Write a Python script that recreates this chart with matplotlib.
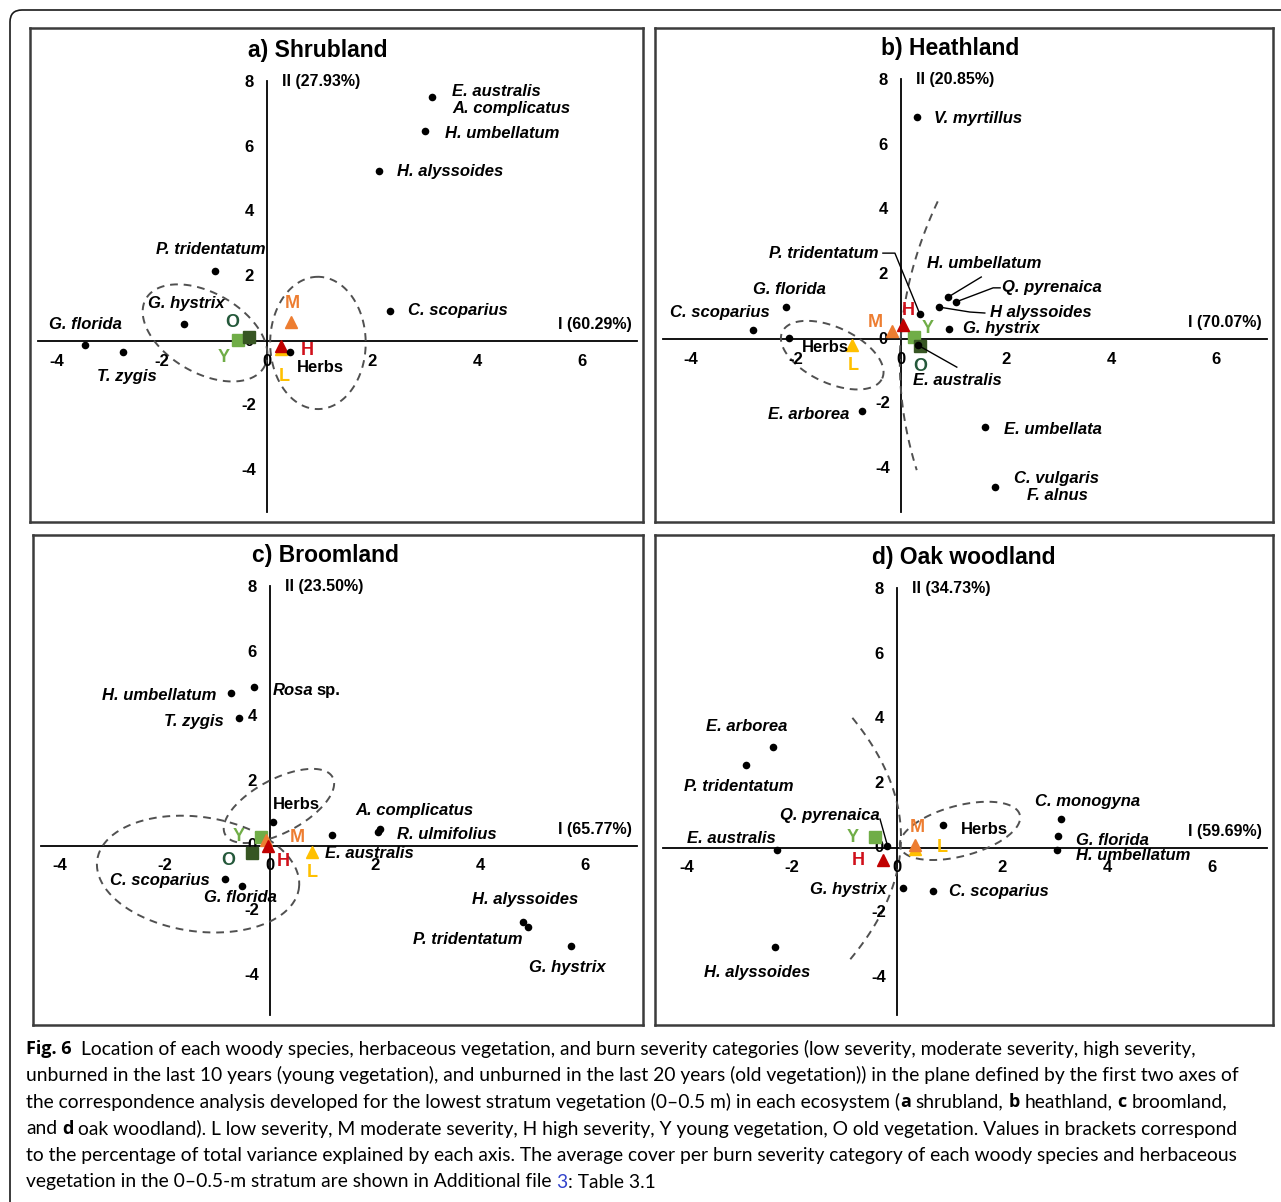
import numpy as np
import matplotlib
matplotlib.use("Agg")
import matplotlib.pyplot as plt
from matplotlib.patches import FancyBboxPatch
from matplotlib.transforms import IdentityTransform

W, H = 1281, 1202
UX, UY = 52.5, 32.3  # pixels per axis unit (same in all four panels)

# ---------------- data (axis I, axis II scores) ----------------
a_species = ["E. australis\nA. complicatus", "H. umbellatum", "H. alyssoides", "P. tridentatum",
             "C. scoparius", "G. hystrix", "G. florida", "T. zygis", "Herbs"]
a_x = [3.14, 3.01, 2.13, -0.99, 2.34, -1.58, -3.47, -2.74, 0.44]
a_y = [7.55, 6.50, 5.26, 2.17, 0.93, 0.53, -0.12, -0.34, -0.34]
a_cats = ["L", "M", "H", "Y", "O"]
a_cat_x = [0.27, 0.46, 0.27, -0.55, -0.34]
a_cat_y = [-0.25, 0.58, -0.15, 0.03, 0.12]

b_species = ["V. myrtillus", "P. tridentatum", "H. umbellatum", "Q. pyrenaica", "H alyssoides",
             "G. hystrix", "E. australis", "G. florida", "C. scoparius", "Herbs", "E. arborea",
             "E. umbellata", "C. vulgaris\nF. alnus"]
b_x = [0.30, 0.36, 0.90, 1.05, 0.72, 0.91, 0.32, -2.19, -2.82, -2.13, -0.74, 1.60, 1.79]
b_y = [6.87, 0.77, 1.30, 1.15, 0.99, 0.31, -0.19, 0.99, 0.28, 0.03, -2.23, -2.72, -4.58]
b_cats = ["L", "M", "H", "Y", "O"]
b_cat_x = [-0.93, -0.17, 0.04, 0.25, 0.36]
b_cat_y = [-0.19, 0.25, 0.43, 0.06, -0.22]

c_species = ["H. umbellatum", "Rosa sp.", "T. zygis", "Herbs", "A. complicatus", "R. ulmifolius",
             "E. australis", "C. scoparius", "G. florida", "H. alyssoides", "P. tridentatum", "G. hystrix"]
c_x = [-0.74, -0.30, -0.59, 0.06, 2.10, 2.06, 1.18, -0.86, -0.53, 4.82, 4.91, 5.73]
c_y = [4.74, 4.92, 3.96, 0.74, 0.53, 0.43, 0.34, -1.02, -1.24, -2.35, -2.51, -3.10]
c_cats = ["Y", "O", "L", "M", "H"]
c_cat_x = [-0.17, -0.34, 0.80, -0.08, -0.04]
c_cat_y = [0.28, -0.22, -0.19, 0.19, 0.0]

d_species = ["E. arborea", "P. tridentatum", "E. australis", "H. alyssoides", "Q. pyrenaica",
             "G. hystrix", "C. scoparius", "Herbs", "C. monogyna", "G. florida", "H. umbellatum"]
d_x = [-2.36, -2.88, -2.29, -2.32, -0.19, 0.11, 0.69, 0.88, 3.12, 3.07, 3.05]
d_y = [3.13, 2.57, -0.06, -3.07, 0.06, -1.24, -1.33, 0.71, 0.90, 0.37, -0.06]
d_cats = ["L", "M", "H", "Y"]
d_cat_x = [0.34, 0.34, -0.27, -0.42]
d_cat_y = [-0.03, 0.09, -0.37, 0.34]

titles = ["a) Shrubland", "b) Heathland", "c) Broomland", "d) Oak woodland"]
axis1_labels = ["I (60.29%)", "I (70.07%)", "I (65.77%)", "I (59.69%)"]
axis2_labels = ["II (27.93%)", "II (20.85%)", "II (23.50%)", "II (34.73%)"]
xticks = [-4, -2, 0, 2, 4, 6]
yticks = [-4, -2, 0, 2, 4, 6, 8]

# group ellipses (cx, cy, semi-major, semi-minor in axis-I units, screen angle)
a_ellipses = [(-1.18, 0.25, 1.30, 0.76, -30), (0.97, -0.06, 1.26, 0.91, 90)]
b_ellipses = [(-1.31, -0.50, 1.05, 0.53, -25)]
c_ellipses = [(-1.37, -0.87, 1.94, 1.09, -8), (0.17, 1.24, 1.16, 0.51, 28)]
d_ellipses = [(1.20, 0.53, 1.18, 0.48, 15)]
# dividing dashed curves (x values, y values)
b_curve = ([0.70, -0.02, 0.30], [4.26, -1.0, -4.06])
d_curve = ([-0.85, 0.07, -0.95], [4.03, 0.03, -3.56])

# ---------------- layout ----------------
# label offsets in pixels (dx, dy downwards, ha)
a_lab = [(20, 3, "left"), (20, 2, "left"), (18, 0, "left"), (50, -21, "right"), (18, 0, "left"),
         (2, -20, "center"), (1, -20, "center"), (4, 25, "center"), (7, 16, "left")]
b_lab = [(17, 1, "left"), (-41, -61, "right"), (-21, -34, "left"), (46, -14, "left"), (51, 5, "left"),
         (14, 0, "left"), (-5, 35, "left"), (3, -18, "center"), (-33, -17, "center"), (13, 9, "left"),
         (-13, 3, "right"), (19, 3, "left"), (62, 0, "center")]
c_lab = [(-15, 3, "right"), (18, 3, "left"), (-15, 3, "right"), (0, -18, "left"), (-25, -18, "left"),
         (19, 2, "left"), (-7, 18, "left"), (-15, 2, "right"), (-2, 11, "center"), (2, -22, "center"),
         (-5, 12, "right"), (-4, 21, "center")]
d_lab = [(-26, -20, "center"), (-7, 22, "center"), (-45, -11, "center"), (-18, 25, "center"),
         (-7, -31, "right"), (-16, 1, "right"), (16, 1, "left"), (18, 4, "left"), (27, -17, "center"),
         (18, 4, "left"), (19, 6, "left")]
a_cat_lab = [(3, 27), (1, -19), (26, 5), (-14, 17), (-17, -15)]
b_cat_lab = [(1, 20), (-17, -8), (5, -15), (14, -9), (0, 20)]
c_cat_lab = [(-22, 0), (-24, 7), (0, 20), (32, -2), (15, 16)]
d_cat_lab = [(27, -1), (2, -18), (-25, 1), (-22, 0)]
b_leaders = {"P. tridentatum": [(0, 0), (-25, -61), (-37, -61)],
             "H. umbellatum": [(0, 0), (33, -20)],
             "Q. pyrenaica": [(0, 0), (37, -14), (44, -14)],
             "H alyssoides": [(0, 0), (31, 5), (46, 6)],
             "E. australis": [(0, 0), (39, 22)]}
d_leaders = {"Q. pyrenaica": [(0, -2), (-7, -27)]}

# panel boxes (left, top, right, bottom) and origin pixel
boxes = [(30, 28, 643, 522), (655, 28, 1273, 522), (33, 535, 643, 1025), (655, 535, 1273, 1025)]
origins = [(267, 341), (901, 339), (270, 846), (897, 848)]
title_x = [-0.36, -0.38, -0.34, -0.48]

cat_color = {"L": "#ffc000", "M": "#ed7d31", "H": "#c00000", "Y": "#70ad47", "O": "#375623"}
cat_text = {"L": "#ffc000", "M": "#ed7d31", "H": "#d0101a", "Y": "#70ad47", "O": "#24583a"}
cat_marker = {"L": "^", "M": "^", "H": "^", "Y": "s", "O": "s"}
cat_z = {"Y": 3, "O": 3.1, "L": 4, "M": 4.1, "H": 4.2}

FONT = "Liberation Sans"
DASH = dict(color="#505050", lw=1.4, dashes=(4, 3))

fig = plt.figure(figsize=(W / 100, H / 100), dpi=100)
renderer = fig.canvas.get_renderer()

border = FancyBboxPatch((10, -30), 1300, H - 10 + 30, boxstyle="round,pad=0,rounding_size=12",
                        transform=IdentityTransform(), fill=False, lw=1.2, ec="#1a1a1a")
fig.add_artist(border)


def ellipse_pts(cx, cy, a, b, ang):
    t = np.linspace(0, 2 * np.pi, 200)
    p = np.deg2rad(ang)
    X = a * np.cos(t) * np.cos(p) - b * np.sin(t) * np.sin(p)
    Y = a * np.cos(t) * np.sin(p) + b * np.sin(t) * np.cos(p)
    return cx + X, cy + Y * UX / UY


panels = [
    (a_species, a_x, a_y, a_lab, a_cats, a_cat_x, a_cat_y, a_cat_lab, a_ellipses, None, {}),
    (b_species, b_x, b_y, b_lab, b_cats, b_cat_x, b_cat_y, b_cat_lab, b_ellipses, b_curve, b_leaders),
    (c_species, c_x, c_y, c_lab, c_cats, c_cat_x, c_cat_y, c_cat_lab, c_ellipses, None, {}),
    (d_species, d_x, d_y, d_lab, d_cats, d_cat_x, d_cat_y, d_cat_lab, d_ellipses, d_curve, d_leaders),
]

for i, (sp, xs, ys, lab, cats, cx, cy, clab, ells, curve, leaders) in enumerate(panels):
    left, top, right, bottom = boxes[i]
    ox, oy = origins[i]
    ax = fig.add_axes([left / W, 1 - bottom / H, (right - left) / W, (bottom - top) / H])
    x0, x1 = (left - ox) / UX, (right - ox) / UX
    y0, y1 = (oy - bottom) / UY, (oy - top) / UY
    ax.set_xlim(x0, x1)
    ax.set_ylim(y0, y1)
    ax.set_xticks([])
    ax.set_yticks([])
    for s in ax.spines.values():
        s.set_linewidth(1.8)
        s.set_color("#3c3c3c")

    # axes through origin
    ax.plot([x0 + 0.15, x1 - 0.12], [0, 0], color="black", lw=1.3, zorder=1)
    ax.plot([0, 0], [y0 + 0.3, 8.05], color="black", lw=1.3, zorder=1)
    tk = dict(fontsize=12, fontweight="bold", family=FONT, textcoords="offset pixels", va="center")
    for v in xticks:
        ax.annotate(str(v), (v, 0), xytext=(0, -20), ha="center", **tk)
    for v in yticks:
        ax.annotate(str(v), (0, v), xytext=(-18, 0), ha="center", **tk)
    ax.text(0.28, 8.02, axis2_labels[i], fontsize=11.5, fontweight="bold", family=FONT, va="center")
    ax.text(x1 - 0.22, 0.5, axis1_labels[i], fontsize=11.5, fontweight="bold", family=FONT,
            va="center", ha="right")
    ax.text(title_x[i], 9.0, titles[i], fontsize=16.5, fontweight="bold", family=FONT, va="center")

    # group ellipses and dividing curves
    for e in ells:
        ex, ey = ellipse_pts(*e)
        ax.plot(ex, ey, zorder=2, **DASH)
    if curve is not None:
        coef = np.polyfit(curve[1], curve[0], 2)
        yy = np.linspace(max(curve[1]), min(curve[1]), 100)
        ax.plot(np.polyval(coef, yy), yy, zorder=2, **DASH)

    # species
    ax.scatter(xs, ys, s=30, color="black", zorder=6, linewidths=0)
    for name, x, y, (dx, dy, ha) in zip(sp, xs, ys, lab):
        style = dict(fontsize=12, fontweight="bold", family=FONT, textcoords="offset pixels",
                     va="center", ha=ha, multialignment="center" if ha == "center" else "left",
                     linespacing=1.2, zorder=7)
        if name == "Herbs":
            ax.annotate(name, (x, y), xytext=(dx, -dy), **style)
        elif name.endswith(" sp."):
            t = ax.annotate(name[:-4], (x, y), xytext=(dx, -dy), fontstyle="italic", **style)
            w = t.get_window_extent(renderer).width
            ax.annotate("sp.", (x, y), xytext=(dx + w + 4, -dy), **style)
        else:
            ax.annotate(name, (x, y), xytext=(dx, -dy), fontstyle="italic", **style)
        if name in leaders:
            pts = leaders[name]
            ax.plot([x + px / UX for px, py in pts], [y - py / UY for px, py in pts],
                    color="black", lw=1.0, zorder=5)

    # burn severity categories
    for c, x, y, (dx, dy) in zip(cats, cx, cy, clab):
        ax.plot(x, y, marker=cat_marker[c], ms=9, color=cat_color[c], zorder=cat_z[c], ls="none")
        ax.annotate(c, (x, y), xytext=(dx, -dy), textcoords="offset pixels", ha="center", va="center",
                    fontsize=13, fontweight="bold", family=FONT, color=cat_text[c], zorder=8)

# ---------------- caption ----------------
CAP_FONT = {"normal": ("Lato", 13.9), "bold": ("Open Sans", 13.0)}
caption = [
    [("Fig. 6", "bold", "black"), ("  Location of each woody species, herbaceous vegetation, and burn severity "
     "categories (low severity, moderate severity, high severity,", "normal", "black")],
    [("unburned in the last 10 years (young vegetation), and unburned in the last 20 years (old vegetation)) "
      "in the plane defined by the first two axes of", "normal", "black")],
    [("the correspondence analysis developed for the lowest stratum vegetation (0\u20130.5 m) in each ecosystem (",
      "normal", "black"), ("a", "bold", "black"), (" shrubland, ", "normal", "black"), ("b", "bold", "black"),
     (" heathland, ", "normal", "black"), ("c", "bold", "black"), (" broomland,", "normal", "black")],
    [("and ", "normal", "black"), ("d", "bold", "black"), (" oak woodland). L low severity, M moderate severity, "
     "H high severity, Y young vegetation, O old vegetation. Values in brackets correspond", "normal", "black")],
    [("to the percentage of total variance explained by each axis. The average cover per burn severity category "
      "of each woody species and herbaceous", "normal", "black")],
    [("vegetation in the 0\u20130.5-m stratum are shown in Additional file ", "normal", "black"),
     ("3", "normal", "#3344cc"), (": Table 3.1", "normal", "black")],
]
cap_y = [1049, 1075, 1102, 1129, 1156, 1182]


def cap_style(weight):
    fam, size = CAP_FONT[weight]
    return dict(family=fam, fontsize=size, fontweight=weight)


def text_width(s, weight):
    t = fig.text(0, 0, "|" + s + "|", **cap_style(weight))
    t2 = fig.text(0, 0, "||", **cap_style(weight))
    w = t.get_window_extent(renderer).width - t2.get_window_extent(renderer).width
    t.remove()
    t2.remove()
    return w


for line, yp in zip(caption, cap_y):
    xp = 26
    for s, weight, color in line:
        lead = len(s) - len(s.lstrip(" "))
        shift = text_width(" " * lead, weight) if lead else 0
        fig.text((xp + shift) / W, 1 - yp / H, s.strip(" "), color=color,
                 va="center", ha="left", **cap_style(weight))
        xp += text_width(s, weight)

fig.savefig("out.png", dpi=100)
